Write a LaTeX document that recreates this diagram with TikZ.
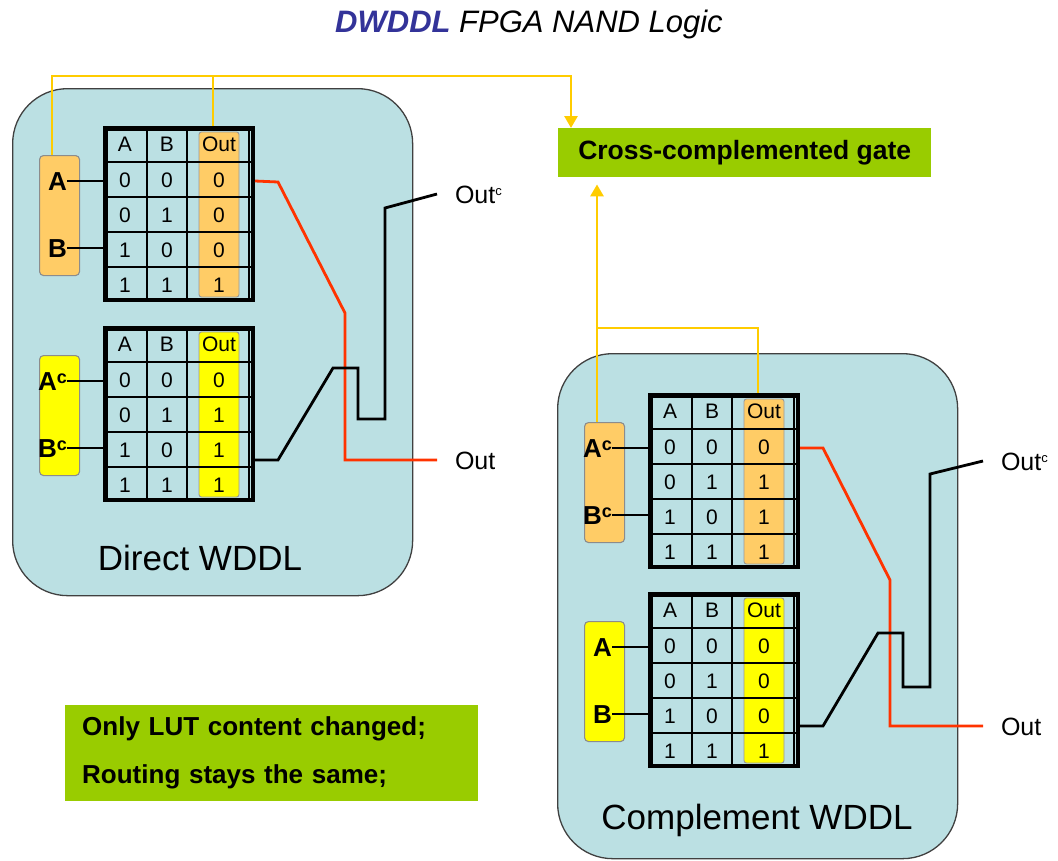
\documentclass[tikz,border=0pt]{standalone}
\usepackage{fontspec}
\setmainfont{Liberation Sans}
\usetikzlibrary{arrows.meta}
\definecolor{panelblue}{HTML}{BBE0E3}
\definecolor{lime}{HTML}{99CC00}
\definecolor{orng}{HTML}{FFCC66}
\definecolor{yel}{HTML}{FFFF00}
\definecolor{gold}{HTML}{FFCC00}
\definecolor{redw}{HTML}{FF3300}
\definecolor{navy}{HTML}{333399}
\newcommand{\fs}[1]{\fontsize{#1}{#1}\selectfont}
\newcommand{\supc}[2]{\raisebox{#1}{\fs{#2}c}}
\newcommand{\lut}[7]{%
\begin{scope}[shift={(#2,#3)}]
 \node[lutbox] (#1) at (0,0) {};
 \draw[hilite, fill=#4] (96,6) rectangle (136,171);
 \foreach \yy in {36,71,106,141} \draw[grid] (2,\yy) -- (150,\yy);
 \foreach \xx in {44,84,146} \draw[grid] (\xx,2) -- (\xx,174);
 \draw[line width=4.5pt] (2.25,2.25) rectangle (149.75,173.75);
 \node[cell] (#1hA) at (22,18) {A};
 \node[cell] (#1hB) at (64,18) {B};
 \node[cell] (#1hO) at (116,18) {Out};
 \foreach \a/\b [count=\i] in {0/0,0/1,1/0,1/1} {
   \node[cell] (#1a\i) at (22,19+35*\i) {\a};
   \node[cell] (#1b\i) at (64,19+35*\i) {\b};}
 \foreach \o [count=\i] in {#5} \node[cell] (#1o\i) at (116,19+35*\i) {\o};
 \node[inbox, fill=#4] (#1in) at (-64,29) {};
 \node[inlbl] (#1A) at (-36,55) {#6};
 \node[inlbl] (#1B) at (-36,122) {#7};
 \draw[wire] (#1A.east) -- (#1A.east -| #1.west);
 \draw[wire] (#1B.east) -- (#1B.east -| #1.west);
 \coordinate (#1r) at (152,55);
 \coordinate (#1k) at (152,134);
 \coordinate (#1yo) at (110,0);
 \coordinate (#1yi) at (-51,29);
\end{scope}}
\begin{document}
\begin{tikzpicture}[x=1pt,y=-1pt,
  panel/.style={anchor=north west, fill=panelblue, draw=black!75, line width=1.3pt, rounded corners=55pt, inner sep=0pt},
  ptitle/.style={font=\fs{35}},
  lutbox/.style={anchor=north west, minimum width=152pt, minimum height=176pt, inner sep=0pt},
  hilite/.style={draw=black!40, line width=0.9pt, rounded corners=2.5pt},
  grid/.style={line width=1.5pt},
  cell/.style={font=\fs{21}, inner sep=0pt},
  inbox/.style={anchor=north west, minimum width=40pt, minimum height=120pt, draw=black!45, line width=1.1pt, rounded corners=4pt, inner sep=0pt},
  inlbl/.style={anchor=east, inner sep=0pt, font=\fs{26}\bfseries, text height=18.5pt, text depth=0pt},
  wire/.style={line width=2.6pt},
  redline/.style={draw=redw, line width=2.8pt},
  blackline/.style={draw=black, line width=2.8pt},
  yline/.style={draw=gold, line width=2.8pt},
  outlbl/.style={anchor=west, inner sep=0pt, outer xsep=18pt, font=\fs{25}, text height=18pt, text depth=0pt},
  gbox/.style={anchor=north west, fill=lime, inner sep=0pt},
  tip/.style={-{Triangle[length=12pt,width=13pt]}}
]
\useasboundingbox (0,0) rectangle (1058,860);
% title
\node[font=\fs{31}\itshape] (title) at (529,24) {{\color{navy}\bfseries DWDDL} FPGA NAND Logic};
% panels
\node[panel, minimum width=400pt, minimum height=507pt] (P1) at (12,88) {};
\node[panel, minimum width=400pt, minimum height=505pt] (P2) at (557,353) {};
\node[ptitle] (P1t) at (200,558) {Direct WDDL};
\node[ptitle] (P2t) at (757,820) {Complement WDDL};
% tables
\lut{T1}{103}{126}{orng}{0,0,0,1}{A}{B}
\lut{T2}{103}{326}{yel}{0,1,1,1}{A\supc{7pt}{18}}{B\supc{7pt}{18}}
\lut{T3}{648}{393}{orng}{0,1,1,1}{A\supc{7pt}{18}}{B\supc{7pt}{18}}
\lut{T4}{648}{592}{yel}{0,0,0,1}{A}{B}
% green boxes
\node[gbox, minimum width=373pt, minimum height=49pt, font=\fs{26.5}\bfseries] (G) at (558,128) {Cross-complemented gate};
\node[gbox, minimum width=413pt, minimum height=96pt, align=left, text width=379pt, font=\fontsize{26}{48}\selectfont\bfseries] (N) at (65,705) {Only LUT content changed;\\Routing stays the same;};
% output labels
\node[outlbl] (oL1) at (437,460) {Out};
\node[outlbl] (oL2) at (437,194) {Out\supc{8pt}{13}};
\node[outlbl] (oR1) at (983,726) {Out};
\node[outlbl] (oR2) at (983,461) {Out\supc{8pt}{13}};
% routing
\draw[redline] (T1r) -- (278,182) -- (345,313) -- (345,460) -- (oL1.west);
\draw[blackline] (T2k) -- (278,460) -- (333,368) -- (358,368) -- (358,419) -- (385,419) -- (385,208) -- (oL2.west);
\draw[redline] (T3r) -- (823,448) -- (890,580) -- (890,726) -- (oR1.west);
\draw[blackline] (T4k) -- (823,726) -- (878,633) -- (903,633) -- (903,687) -- (930,687) -- (930,474) -- (oR2.west);
% yellow feedback
\coordinate (ga) at (571,76);
\coordinate (gb) at (598,328);
\draw[yline, tip] (T1yi) |- (ga) -- (ga |- G.north);
\draw[yline] (T1yo) -- (T1yo |- ga);
\draw[yline, tip, shorten >=7pt] (T3yi) -- (T3yi |- G.south);
\draw[yline] (T3yo) |- (gb);
\end{tikzpicture}
\end{document}
